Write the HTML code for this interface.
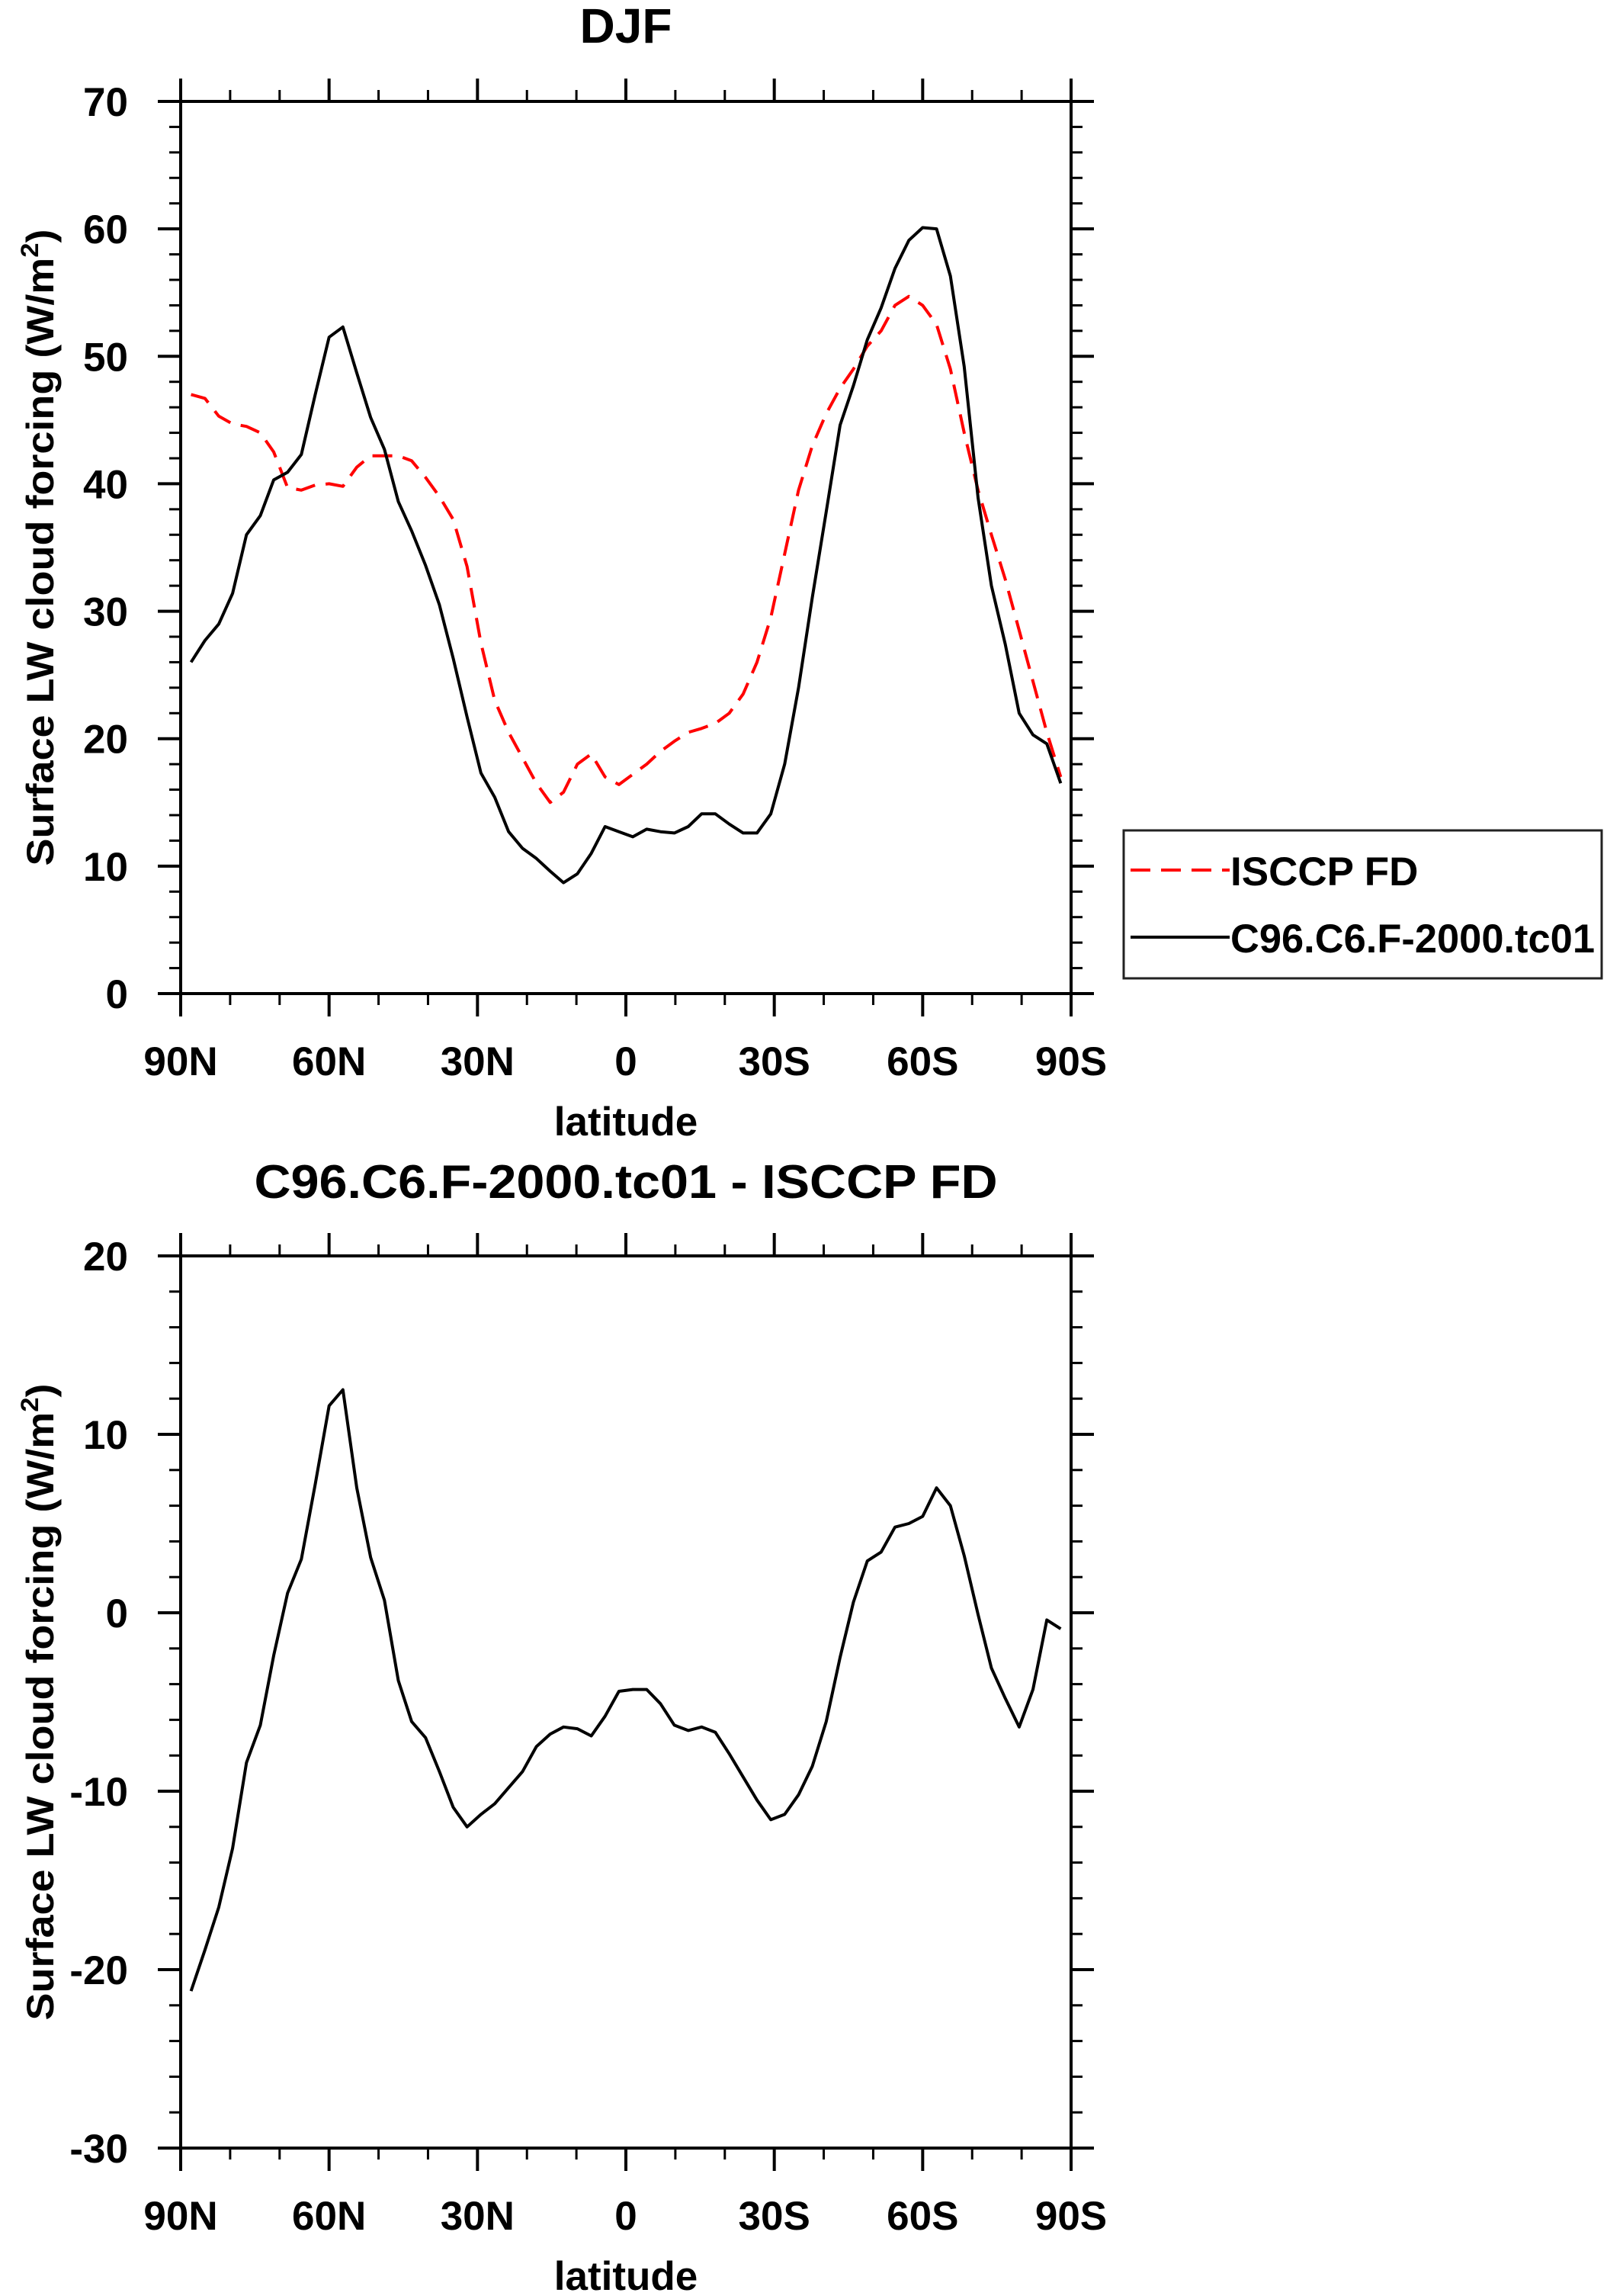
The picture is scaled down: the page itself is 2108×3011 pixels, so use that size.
<!DOCTYPE html>
<html><head><meta charset="utf-8"><style>
html,body{margin:0;padding:0;background:#fff;}
svg{display:block;font-family:"Liberation Sans",sans-serif;font-weight:bold;}
</style></head><body>
<svg id="fig" width="2108" height="3011" viewBox="0 0 2108 3011" xmlns="http://www.w3.org/2000/svg"></svg>
<script>
const lats = [87.9,85.1,82.3,79.5,76.7,73.9,71.2,68.4,65.6,62.8,60.0,57.2,54.4,51.6,48.8,46.0,43.3,40.5,37.7,34.9,32.1,29.3,26.5,23.7,20.9,18.1,15.3,12.6,9.8,7.0,4.2,1.4,
 -1.4,-4.2,-7.0,-9.8,-12.6,-15.3,-18.1,-20.9,-23.7,-26.5,-29.3,-32.1,-34.9,-37.7,-40.5,-43.3,-46.0,-48.8,-51.6,-54.4,-57.2,-60.0,-62.8,-65.6,-68.4,-71.2,-73.9,-76.7,-79.5,-82.3,-85.1,-87.9];
const modelVals = [26,27.7,29,31.4,36,37.5,40.3,40.9,42.3,47,51.5,52.3,48.7,45.2,42.7,38.6,36.3,33.6,30.5,26.3,21.7,17.3,15.4,12.7,11.4,10.6,9.6,8.7,9.4,11,13.1,12.7,12.3,12.9,12.7,12.6,13.1,14.1,14.1,13.3,12.6,12.6,14.1,18,24,31.1,37.8,44.6,47.7,51.3,53.8,56.9,59.1,60.1,60,56.3,49.2,38.9,32,27.4,22,20.3,19.6,16.5];
const obsVals = [47,46.7,45.3,44.7,44.5,44,42.5,39.7,39.5,39.9,40,39.8,41.3,42.2,42.2,42.2,41.8,40.5,39,37.2,33.5,27.5,23,20.5,18.5,16.5,15,15.8,18,18.8,17,16.4,17.2,18,19,19.8,20.5,20.8,21.2,22,23.5,26,29.5,34.5,39.5,43,45.5,47.5,49,50.8,52,54,54.7,54,52.5,49,44,39.5,36,32.5,28.5,24.5,20.5,17];
const diffVals = [-21.2,-18.9,-16.5,-13.2,-8.4,-6.3,-2.4,1.1,3.0,7.2,11.6,12.5,7.0,3.1,0.7,-3.8,-6.1,-7.0,-8.9,-10.9,-12.0,-11.3,-10.7,-9.8,-8.9,-7.5,-6.8,-6.4,-6.5,-6.9,-5.8,-4.4,-4.3,-4.3,-5.1,-6.3,-6.6,-6.4,-6.7,-7.9,-9.2,-10.5,-11.6,-11.3,-10.2,-8.6,-6.1,-2.5,0.6,2.9,3.4,4.8,5.0,5.4,7.0,6.0,3.2,-0.1,-3.1,-4.8,-6.4,-4.3,-0.4,-0.9];
const xTickVals = [90,60,30,0,-30,-60,-90];
const xTickLabels = ["90N","60N","30N","0","30S","60S","90S"];
const topYTicks = [0,10,20,30,40,50,60,70];
const botYTicks = [-30,-20,-10,0,10,20];

const NS="http://www.w3.org/2000/svg";
const svg=document.getElementById('fig');
function mk(tag,attrs,parent){const e=document.createElementNS(NS,tag);for(const k in attrs)e.setAttribute(k,attrs[k]);(parent||svg).appendChild(e);return e;}
const X0=237,X1=1405;
function xs(lat){return X0+(90-lat)/180*(X1-X0);}

function panel(name,top,bot,ymin,ymax,yTicks,title,titleSize,titleY,titleLen){
  const g=mk('g',{});
  
  
  const ys=v=>bot-(v-ymin)/(ymax-ymin)*(bot-top);
  const t=mk('text',{x:821,y:titleY,'text-anchor':'middle','font-size':titleSize},g);
  if(titleLen){t.setAttribute('textLength',titleLen);t.setAttribute('lengthAdjust','spacingAndGlyphs');}
  t.textContent=title;
  
  
  // frame
  const fr=mk('rect',{x:X0,y:top,width:X1-X0,height:bot-top,fill:'none',stroke:'#000','stroke-width':4},g);
  
  
  // x ticks
  for(let lat=90;lat>=-90;lat-=10){
    const x=xs(lat),major=(lat%30===0),len=major?30:15;
    mk('line',{x1:x,x2:x,y1:top,y2:top-len,stroke:'#000','stroke-width':major?4:3},g);
    mk('line',{x1:x,x2:x,y1:bot,y2:bot+len,stroke:'#000','stroke-width':major?4:3},g);
  }
  xTickVals.forEach((v,i)=>{
    const tl=mk('text',{x:xs(v),y:bot+107,'text-anchor':'middle','font-size':53},g);
    tl.textContent=xTickLabels[i];
    
    
  });
  // y ticks
  for(let v=ymin;v<=ymax+0.001;v+=2){
    const y=ys(v),major=(Math.abs(v%10)<0.001),len=major?30:15;
    mk('line',{x1:X0,x2:X0-len,y1:y,y2:y,stroke:'#000','stroke-width':major?4:3},g);
    mk('line',{x1:X1,x2:X1+len,y1:y,y2:y,stroke:'#000','stroke-width':major?4:3},g);
  }
  yTicks.forEach(v=>{
    const tl=mk('text',{x:168,y:ys(v)+19,'text-anchor':'end','font-size':53},g);
    tl.textContent=String(v);
    
    
  });
  const xl=mk('text',{x:821,y:bot+186,'text-anchor':'middle','font-size':53},g);
  xl.textContent='latitude';
  
  
  const cy=(top+bot)/2;
  const yl=mk('text',{x:0,y:0,'text-anchor':'middle','font-size':50,transform:`translate(70,${cy}) rotate(-90)`,textLength:835,lengthAdjust:'spacingAndGlyphs'},g);
  yl.innerHTML='Surface LW cloud forcing (W/m<tspan font-size="32" dy="-20">2</tspan><tspan dy="20">)</tspan>';
  
  
  return {g,ys};
}

const p1=panel('djf-panel',133,1303,0,70,topYTicks,'DJF',64,56,null);
function line(vals,ys,parent,attrs,name){
  const d=vals.map((v,i)=>(i?'L':'M')+xs(lats[i]).toFixed(1)+' '+ys(v).toFixed(1)).join(' ');
  const p=mk('path',Object.assign({d:d,fill:'none','stroke-linejoin':'round'},attrs),parent);
  
  
}
line(obsVals,p1.ys,p1.g,{stroke:'#ff0000','stroke-width':4,'stroke-dasharray':'26 14'},'isccp-fd-line');
line(modelVals,p1.ys,p1.g,{stroke:'#000','stroke-width':4},'model-line');

// legend
const lg=mk('g',{});


mk('rect',{x:1474,y:1089,width:627,height:194,fill:'none',stroke:'#222','stroke-width':3},lg);
mk('line',{x1:1483,x2:1613,y1:1141,y2:1141,stroke:'#ff0000','stroke-width':4,'stroke-dasharray':'26 14'},lg);
mk('line',{x1:1483,x2:1613,y1:1229,y2:1229,stroke:'#000','stroke-width':4},lg);
const l1=mk('text',{x:1614,y:1161,'font-size':53},lg);l1.textContent='ISCCP FD';


const l2=mk('text',{x:1614,y:1249,'font-size':53,textLength:478,lengthAdjust:'spacingAndGlyphs'},lg);l2.textContent='C96.C6.F-2000.tc01';



const p2=panel('difference-panel',1647,2817,-30,20,botYTicks,'C96.C6.F-2000.tc01 - ISCCP FD',62,1571,975);
line(diffVals,p2.ys,p2.g,{stroke:'#000','stroke-width':4},'difference-line');
</script>
</body></html>
